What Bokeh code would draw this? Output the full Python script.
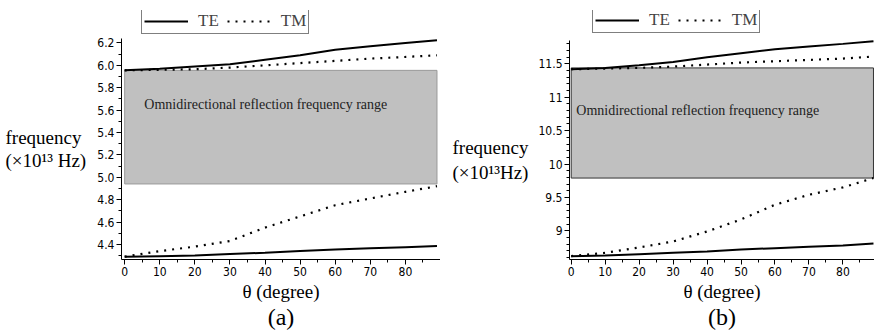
from bokeh.plotting import figure
from bokeh.layouts import row
from bokeh.models import Range1d, Legend, LegendItem, Label, FixedTicker, Title
from bokeh.embed import file_html
from bokeh.resources import INLINE

# ---------------- data ----------------
theta = [0, 10, 20, 30, 40, 50, 60, 70, 80, 89]

# panel (a)
a_te_upper = [5.955, 5.97, 5.99, 6.01, 6.05, 6.09, 6.14, 6.17, 6.20, 6.225]
a_tm_upper = [5.955, 5.96, 5.965, 5.98, 6.00, 6.02, 6.04, 6.06, 6.075, 6.09]
a_te_lower = [4.29, 4.295, 4.30, 4.315, 4.325, 4.34, 4.355, 4.365, 4.375, 4.385]
a_tm_lower = [4.29, 4.34, 4.38, 4.43, 4.55, 4.65, 4.75, 4.81, 4.87, 4.92]
a_band = [4.94, 5.955]          # omnidirectional band (bottom, top)
a_yticks = [4.4, 4.6, 4.8, 5.0, 5.2, 5.4, 5.6, 5.8, 6.0, 6.2]
a_ytick_labels = ["4.4", "4.6", "4.8", "5.0", "5.2", "5.4", "5.6", "5.8", "6.0", "6.2"]
a_ylabel = ["frequency", "(\u00d710\u00b9\u00b3 Hz)"]

# panel (b)
b_te_upper = [11.42, 11.44, 11.48, 11.53, 11.60, 11.66, 11.72, 11.76, 11.80, 11.84]
b_tm_upper = [11.42, 11.43, 11.44, 11.46, 11.49, 11.52, 11.54, 11.56, 11.58, 11.61]
b_te_lower = [8.62, 8.63, 8.65, 8.67, 8.69, 8.72, 8.74, 8.76, 8.78, 8.81]
b_tm_lower = [8.62, 8.67, 8.75, 8.84, 8.99, 9.17, 9.39, 9.54, 9.65, 9.79]
b_band = [9.79, 11.44]
b_yticks = [9, 9.5, 10, 10.5, 11, 11.5]
b_ytick_labels = ["9", "9.5", "10", "10.5", "11", "11.5"]
b_ylabel = ["frequency", "(\u00d710\u00b9\u00b3Hz)"]

xticks = [0, 10, 20, 30, 40, 50, 60, 70, 80]
band_text = "Omnidirectional reflection frequency range"
xlabel = "\u03b8 (degree)"

SERIF = "Liberation Serif"
NARROW = "DejaVu Sans Condensed"
FRAME_TOP, FRAME_BOTTOM = 10, 259   # frames of all figures in the row are aligned


def label_fig(width, lines, xpos, ypos):
    f = figure(width=width, height=335, output_backend="svg", toolbar_location=None,
               x_range=Range1d(0, width), y_range=Range1d(FRAME_BOTTOM, FRAME_TOP),
               x_axis_location=None, y_axis_location=None,
               min_border_left=0, min_border_right=0, min_border_top=FRAME_TOP,
               min_border_bottom=335 - FRAME_BOTTOM)
    f.outline_line_color = None
    f.xgrid.visible = False
    f.ygrid.visible = False
    for txt, yy in zip(lines, ypos):
        f.add_layout(Label(x=xpos, y=yy, text=txt, text_font=SERIF,
                           text_font_size="19px", text_baseline="middle",
                           text_color="black"))
    return f


def panel(width, left, xr, yr, ytop_view, te_u, tm_u, te_l, tm_l, band, yt, ytl,
          yminor, txt_x, txt_y, band_line, leg_loc, tag):
    p = figure(width=width, height=335, output_backend="svg", toolbar_location=None,
               x_range=Range1d(*xr), y_range=Range1d(yr[0], ytop_view),
               min_border_left=left, min_border_right=0, min_border_top=FRAME_TOP,
               min_border_bottom=335 - FRAME_BOTTOM)
    p.outline_line_color = None
    p.xgrid.visible = False
    p.ygrid.visible = False
    p.background_fill_color = "white"
    p.border_fill_color = "white"

    p.quad(left=[theta[0]], right=[theta[-1]], bottom=[band[0]], top=[band[1]],
           fill_color="#c0c0c0", line_color=band_line, line_width=1)
    p.add_layout(Label(x=txt_x, y=txt_y, text=band_text, text_font=SERIF,
                       text_font_size="14px", text_baseline="middle",
                       text_color="#222222"))

    te1 = p.line(theta, te_u, line_color="black", line_width=2)
    p.line(theta, te_l, line_color="black", line_width=2)
    tm1 = p.line(theta, tm_u, line_color="black", line_width=2.2, line_dash="2 6")
    p.line(theta, tm_l, line_color="black", line_width=2.2, line_dash="2 6")

    # axes
    for ax in [p.xaxis[0], p.yaxis[0]]:
        ax.axis_line_color = "black"
        ax.major_tick_in = 0
        ax.major_tick_out = 5
        ax.minor_tick_in = 0
        ax.minor_tick_out = 3
        ax.major_label_text_font = NARROW
        ax.major_label_text_font_size = "12px"
        ax.major_label_text_color = "black"
        ax.major_label_standoff = 2
    p.yaxis[0].bounds = (yr[0], yr[1])
    p.xaxis[0].ticker = FixedTicker(ticks=xticks, minor_ticks=list(range(0, 90, 5)))
    p.yaxis[0].ticker = FixedTicker(ticks=yt, minor_ticks=yminor)
    p.yaxis[0].major_label_overrides = {t: l for t, l in zip(yt, ytl)}

    # x label and panel tag below
    p.add_layout(Title(text=xlabel, align="center", text_font=SERIF,
                       text_font_size="19px", text_font_style="normal",
                       text_color="black", standoff=0, offset=0), "below")
    p.add_layout(Title(text=tag, align="center", text_font=SERIF,
                       text_font_size="24px", text_font_style="normal",
                       text_color="black", standoff=0, offset=0), "below")

    leg = Legend(items=[LegendItem(label="TE", renderers=[te1]),
                        LegendItem(label="TM", renderers=[tm1])],
                 orientation="horizontal", location=leg_loc,
                 border_line_color="black", border_line_width=1,
                 background_fill_color="white", background_fill_alpha=1,
                 label_text_font=SERIF, label_text_font_size="17px",
                 glyph_width=44, glyph_height=12, label_standoff=10,
                 spacing=8, padding=2, margin=0, label_height=12)
    p.add_layout(leg, "center")
    return p


la = label_fig(92, a_ylabel, 5, [137, 160])
pa = panel(348, 29, (-0.9, 90.0), (4.265, 6.24), 6.49,
           a_te_upper, a_tm_upper, a_te_lower, a_tm_lower, a_band,
           a_yticks, a_ytick_labels, [round(4.3 + 0.1 * i, 2) for i in range(20)],
           5.6, 5.65, "#9a9a9a", (20, 225), "(a)")
lb = label_fig(95, b_ylabel, 12, [147, 172])
pb = panel(339, 31, (-0.5, 89.3), (8.57, 11.85), 12.30,
           b_te_upper, b_tm_upper, b_te_lower, b_tm_lower, b_band,
           b_yticks, b_ytick_labels, [round(8.6 + 0.1 * i, 2) for i in range(33)],
           1.5, 10.8, "#333333", (23, 226), "(b)")

layout = row(la, pa, lb, pb, spacing=0)
open("out.html", "w").write(file_html(layout, INLINE))
